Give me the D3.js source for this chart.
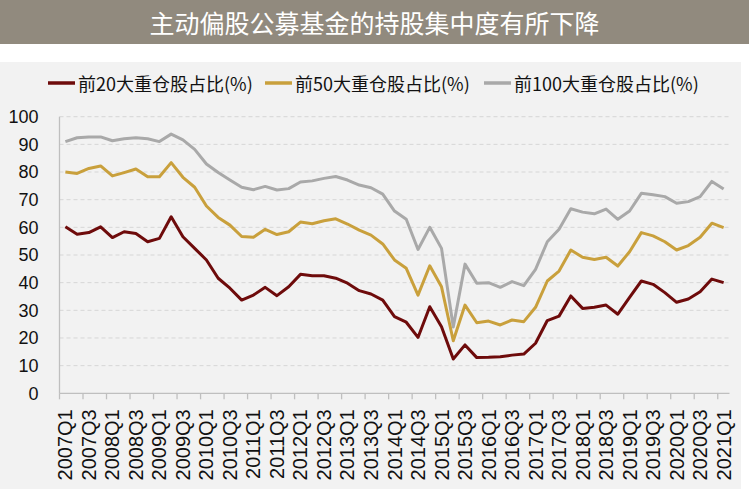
<!DOCTYPE html>
<html>
<head>
<meta charset="utf-8">
<script src="https://cdn.jsdelivr.net/npm/d3@7"></script>
<style>
  body { margin: 0; background: #ffffff; }
  svg { display: block; }
</style>
</head>
<body>
<div id="chart"></div>
<script>
// Chart data
const titleText = '主动偏股公募基金的持股集中度有所下降';
const seriesNames = ['前20大重仓股占比(%)', '前50大重仓股占比(%)', '前100大重仓股占比(%)'];
const seriesColors = ['#6e0b0b', '#c9a03c', '#a9a9a9'];

// quarters 2007Q1 .. 2021Q1
const quarters = [];
for (let y = 2007; y <= 2021; y++) {
    for (let q = 1; q <= 4; q++) {
        if (y === 2021 && q > 1) break;
        quarters.push(y + 'Q' + q);
    }
}

const top20 = [60.2, 57.5, 58.1, 60.2, 56.3, 58.4, 57.8, 54.8, 56.0, 63.8,
               56.6, 52.4, 48.2, 41.6, 38.0, 33.7, 35.5, 38.3, 35.3, 38.5,
               43.0, 42.5, 42.5, 41.6, 39.8, 37.1, 35.9, 33.7, 27.7, 25.7,
               20.2, 31.3, 24.1, 12.4, 17.5, 12.9, 13.0, 13.2, 13.8, 14.2,
               18.1, 26.3, 27.9, 35.2, 30.7, 31.1, 31.9, 28.6, 34.7, 40.6,
               39.4, 36.4, 32.9, 34.1, 36.7, 41.3, 40.0];

const top50 = [80.0, 79.5, 81.3, 82.2, 78.6, 79.8, 81.1, 78.3, 78.3, 83.4,
               78.1, 74.5, 67.7, 63.6, 60.8, 56.7, 56.4, 59.3, 57.4, 58.4,
               61.9, 61.3, 62.4, 63.1, 61.2, 59.0, 57.2, 54.0, 48.2, 45.2,
               35.5, 46.1, 38.5, 19.0, 31.9, 25.5, 26.1, 24.7, 26.5, 25.9,
               31.1, 40.6, 44.2, 51.8, 49.2, 48.4, 49.2, 46.0, 51.2, 58.1,
               56.9, 54.8, 51.8, 53.4, 56.4, 61.5, 59.9];

const top100 = [91.0, 92.4, 92.7, 92.7, 91.3, 92.0, 92.4, 92.0, 91.0, 93.7,
                91.6, 88.2, 82.9, 79.8, 77.1, 74.5, 73.6, 74.8, 73.5, 74.0,
                76.4, 76.8, 77.7, 78.4, 77.1, 75.3, 74.3, 72.0, 65.9, 62.9,
                52.0, 60.0, 52.4, 24.0, 46.7, 39.8, 40.0, 38.3, 40.4, 38.9,
                44.8, 54.8, 59.3, 66.7, 65.5, 64.9, 66.6, 62.9, 65.9, 72.3,
                71.8, 71.1, 68.7, 69.3, 71.1, 76.6, 73.9];

const yTicks = [0, 10, 20, 30, 40, 50, 60, 70, 80, 90, 100];

// Canvas
const width = 749, height = 489;
const margin = { top: 117, right: 20, bottom: 96, left: 59.5 };

const svg = d3.select('#chart').append('svg')
    .attr('width', width)
    .attr('height', height);

// Title bar
svg.append('rect')
    .attr('x', 0).attr('y', 0)
    .attr('width', width).attr('height', 44)
    .attr('fill', '#918a7e');

svg.append('text')
    .attr('x', width / 2)
    .attr('y', 22)
    .attr('text-anchor', 'middle')
    .attr('dominant-baseline', 'central')
    .attr('font-family', '"Noto Sans CJK SC", sans-serif')
    .attr('font-size', '25px')
    .attr('fill', '#ffffff')
    .text(titleText);

// Plot background
svg.append('rect')
    .attr('x', 0).attr('y', 62)
    .attr('width', 741).attr('height', height - 62)
    .attr('fill', '#f2f2f2');

// Scales
const x = d3.scaleBand()
    .domain(quarters)
    .range([margin.left, 729.5])
    .padding(0);

const y = d3.scaleLinear()
    .domain([0, 100])
    .range([393.3, 116.7]);

const cx = d => x(d) + x.bandwidth() / 2;

// Gridlines
svg.append('g')
    .selectAll('line')
    .data(yTicks.filter(d => d > 0))
    .enter().append('line')
        .attr('x1', margin.left)
        .attr('x2', 729.5)
        .attr('y1', d => y(d))
        .attr('y2', d => y(d))
        .attr('stroke', '#d6d6d6')
        .attr('stroke-width', 1)
        .attr('stroke-dasharray', '4,3');

// Y axis labels
svg.append('g')
    .attr('transform', `translate(${margin.left}, 0)`)
    .call(d3.axisLeft(y).tickValues(yTicks).tickSize(0).tickPadding(21))
    .call(g => g.select('.domain').remove())
    .call(g => g.selectAll('text')
        .attr('font-family', '"Liberation Sans", Arial, sans-serif')
        .attr('font-size', '18px')
        .attr('fill', '#111'));

// Y axis line
svg.append('line')
    .attr('x1', margin.left).attr('x2', margin.left)
    .attr('y1', y(100)).attr('y2', y(0))
    .attr('stroke', '#bfbfbf')
    .attr('stroke-width', 1.3);

// X axis line
svg.append('line')
    .attr('x1', margin.left).attr('x2', 729.5)
    .attr('y1', y(0)).attr('y2', y(0))
    .attr('stroke', '#bfbfbf')
    .attr('stroke-width', 1.3);

// X ticks at category boundaries, every 2 quarters
const labelQuarters = quarters.filter((d, i) => i % 2 === 0);

svg.append('g')
    .selectAll('line')
    .data(labelQuarters)
    .enter().append('line')
        .attr('x1', d => x(d))
        .attr('x2', d => x(d))
        .attr('y1', y(0))
        .attr('y2', y(0) + 6)
        .attr('stroke', '#bfbfbf')
        .attr('stroke-width', 1.3);

// X labels, rotated
svg.append('g')
    .selectAll('text')
    .data(labelQuarters)
    .enter().append('text')
        .attr('transform', d => `translate(${cx(d)}, ${y(0) + 16}) rotate(-90)`)
        .attr('text-anchor', 'end')
        .attr('dominant-baseline', 'central')
        .attr('font-family', '"Liberation Sans", Arial, sans-serif')
        .attr('font-size', '20px')
        .attr('fill', '#111')
        .text(d => d);

// Lines
const allSeries = [top20, top50, top100];
const line = d3.line()
    .x((d, i) => cx(quarters[i]))
    .y(d => y(d));

// draw gray first so red sits on top
[2, 1, 0].forEach(k => {
    svg.append('path')
        .datum(allSeries[k])
        .attr('fill', 'none')
        .attr('stroke', seriesColors[k])
        .attr('stroke-width', 3)
        .attr('stroke-linejoin', 'round')
        .attr('d', line);
});

// Legend
const legendX = [48, 265, 484];
const legend = svg.append('g');
seriesNames.forEach((name, k) => {
    legend.append('line')
        .attr('x1', legendX[k]).attr('x2', legendX[k] + 27)
        .attr('y1', 83).attr('y2', 83)
        .attr('stroke', seriesColors[k])
        .attr('stroke-width', 3.5);
    legend.append('text')
        .attr('x', legendX[k] + 30)
        .attr('y', 83)
        .attr('dominant-baseline', 'central')
        .attr('font-family', '"Liberation Sans Narrow", "Noto Sans CJK SC", sans-serif')
        .attr('font-size', '18px')
        .attr('fill', '#111')
        .text(name);
});
</script>
</body>
</html>
